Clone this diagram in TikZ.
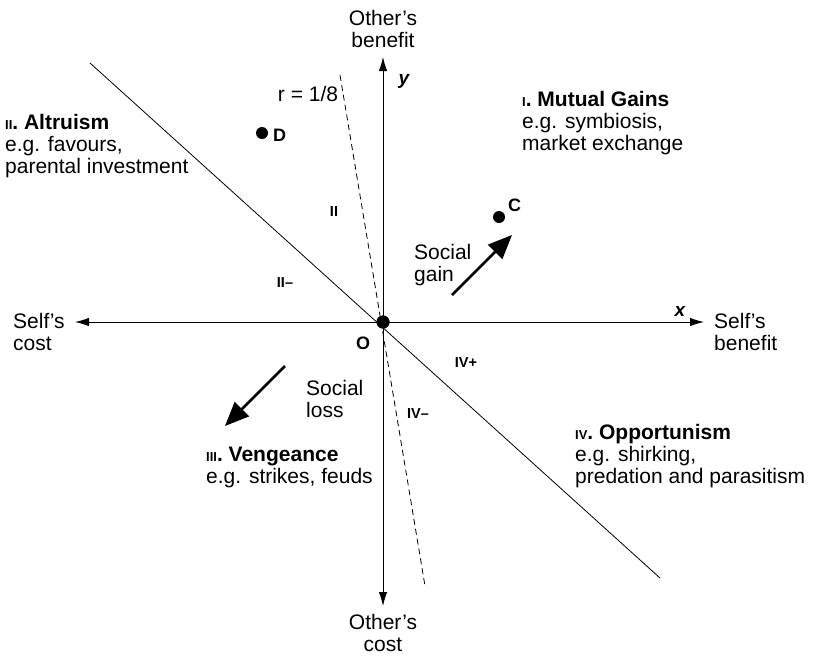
\documentclass[tikz,border=0pt]{standalone}
\usepackage{fontspec}
\setmainfont{Liberation Sans}
\usetikzlibrary{arrows.meta}
\begin{document}
\begin{tikzpicture}[x=1pt,y=-1pt,
  txt/.style={inner sep=0pt,align=left,font=\fontsize{21}{22}\selectfont},
  ctxt/.style={inner sep=0pt,align=center,font=\fontsize{21}{22}\selectfont},
  sml/.style={inner sep=0pt,font=\fontsize{14.5}{16}\selectfont\bfseries},
  lbl/.style={inner sep=0pt,font=\fontsize{18}{20}\selectfont\bfseries},
  axis/.style={line width=0.9pt,-{Latex[length=14pt,width=8.5pt]}},
  diag/.style={line width=0.8pt},
  bigarrow/.style={line width=2.5pt,-{Triangle[length=24pt,width=20pt]}},
  dotm/.style={circle,fill=black,inner sep=0pt,minimum size=#1}]
\useasboundingbox (0,0) rectangle (813,665);
\newcommand{\numsc}[1]{{\fontsize{13}{14}\selectfont\bfseries #1}}
% axes
\coordinate (xl) at (75,322);
\coordinate (xr) at (704,322);
\coordinate (yt) at (383,57);
\coordinate (yb) at (383,606);
\node[dotm=13pt] (O) at (383,322) {};
\draw[axis] (O.center) -- (xl);
\draw[axis] (O.center) -- (xr);
\draw[axis] (O.center) -- (yt);
\draw[axis] (O.center) -- (yb);
% diagonal and r line
\coordinate (d1) at (90,63);
\coordinate (d2) at (660,578);
\draw[diag] (d1) -- (d2);
\coordinate (r1) at (340,75);
\coordinate (r2) at (425,586);
\draw[diag,dash pattern=on 6pt off 4pt] (r1) -- (r2);
\node[dotm=13pt] at (383,322) {};
% points
\node[dotm=12pt] (D) at (262,133) {};
\node[lbl,anchor=west] (Dl) at (273,135) {D};
\node[dotm=12pt] (C) at (499,217) {};
\node[lbl,anchor=west] (Cl) at (508,205) {C};
\node[lbl] (Ol) at (363,343) {O};
% arrows
\coordinate (g1) at (452,295);
\coordinate (g2) at (512,235);
\draw[bigarrow] (g1) -- (g2);
\coordinate (l1) at (285,366);
\coordinate (l2) at (225,426);
\draw[bigarrow] (l1) -- (l2);
% axis labels
\node[ctxt,anchor=base] (ob) at (383,47) {Other’s\\benefit};
\node[ctxt,anchor=base] (oc) at (383,651) {Other’s\\cost};
\node[txt,anchor=base west] (sc) at (13,350) {Self’s\\cost};
\node[txt,anchor=base west] (sb) at (714,350) {Self’s\\benefit};
\node[inner sep=0pt,font=\fontsize{19}{20}\selectfont\bfseries\itshape] (xlab) at (680,311) {x};
\node[inner sep=0pt,font=\fontsize{19}{20}\selectfont\bfseries\itshape] (ylab) at (404,81) {y};
\node[txt,anchor=base] (r) at (308,101) {r = 1/8};
% quadrant texts
\node[txt,anchor=base west] (q2) at (5,173) {\numsc{II}\textbf{. Altruism}\\e.g. favours,\\parental investment};
\node[txt,anchor=base west] (q1) at (522,150) {\numsc{I}\textbf{. Mutual Gains}\\e.g. symbiosis,\\market exchange};
\node[txt,anchor=base west] (q3) at (206,483) {\numsc{III}\textbf{. Vengeance}\\e.g. strikes, feuds};
\node[txt,anchor=base west] (q4) at (575,483) {\numsc{IV}\textbf{. Opportunism}\\e.g. shirking,\\predation and parasitism};
\node[txt,anchor=base west] (sg) at (414,281) {Social\\gain};
\node[txt,anchor=base west] (sl) at (306,417) {Social\\loss};
% small region labels
\node[sml] (a) at (334,212) {II};
\node[sml] (b) at (285,283) {II–};
\node[sml] (c) at (466,363) {IV+};
\node[sml] (d) at (418,414) {IV–};
\end{tikzpicture}
\end{document}
